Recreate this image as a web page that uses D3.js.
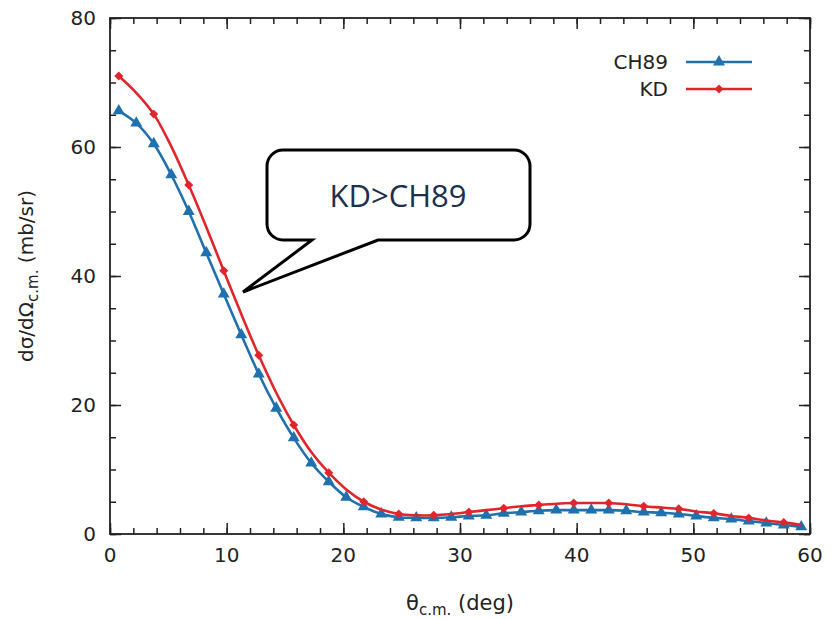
<!DOCTYPE html>
<html>
<head>
<meta charset="utf-8">
<script src="https://cdn.jsdelivr.net/npm/d3@7"></script>
<style>
  html, body { margin: 0; padding: 0; background: #fff; }
  svg { display: block; }
</style>
</head>
<body>
<svg id="chart" width="831" height="619"></svg>
<script>
// Scattering angle grid (deg) shared by both optical-model calculations
const theta = [0.75, 2.25, 3.75, 5.25, 6.75, 8.25, 9.75, 11.25, 12.75, 14.25,
  15.75, 17.25, 18.75, 20.25, 21.75, 23.25, 24.75, 26.25, 27.75, 29.25,
  30.75, 32.25, 33.75, 35.25, 36.75, 38.25, 39.75, 41.25, 42.75, 44.25,
  45.75, 47.25, 48.75, 50.25, 51.75, 53.25, 54.75, 56.25, 57.75, 59.25];

// Differential cross sections (mb/sr)
const ch89 = [65.6, 63.7, 60.5, 55.7, 50.0, 43.6, 37.2, 30.9, 24.8, 19.5,
  14.9, 11.0, 8.1, 5.7, 4.2, 3.1, 2.6, 2.5, 2.5, 2.6,
  2.8, 2.9, 3.2, 3.4, 3.6, 3.7, 3.7, 3.7, 3.7, 3.6,
  3.4, 3.3, 3.1, 2.8, 2.5, 2.3, 2.0, 1.7, 1.4, 1.1];
const kd = [71.0, 68.4, 65.1, 60.1, 54.1, 47.6, 40.8, 34.1, 27.7, 21.9,
  16.9, 12.7, 9.5, 6.9, 5.0, 3.8, 3.1, 2.9, 2.9, 3.1,
  3.4, 3.7, 4.0, 4.3, 4.5, 4.7, 4.8, 4.8, 4.8, 4.6,
  4.3, 4.1, 3.9, 3.5, 3.2, 2.8, 2.5, 2.1, 1.8, 1.4];

const xTicks = [0, 10, 20, 30, 40, 50, 60];
const yTicks = [0, 20, 40, 60, 80];
const calloutText = "KD>CH89";

// Markers: triangles for CH89; squares turned 45° (diamonds) for KD, on every other point
const series = [
  { name: "CH89", values: ch89, color: "#1f70ad", symbol: d3.symbolTriangle, size: 62, rot: 0,  every: 1 },
  { name: "KD",   values: kd,   color: "#e0262c", symbol: d3.symbolSquare,   size: 40, rot: 45, every: 2 }
];

const svg = d3.select("#chart");
const m = { left: 110, right: 21, top: 18, bottom: 85 };
const W = 831, H = 619;

const x = d3.scaleLinear().domain([0, 60]).range([m.left, W - m.right]);
const y = d3.scaleLinear().domain([0, 80]).range([H - m.bottom, m.top]);

const tickFont = "DejaVu Sans, Verdana, sans-serif";
const fs = 20;

// Inward ticks on all four sides, major and minor
const xMinor = d3.range(0, 61, 2);
const yMinor = d3.range(0, 81, 5);

svg.append("g").attr("transform", `translate(0,${y(0)})`)
  .call(d3.axisTop(x).tickValues(xMinor).tickSize(6).tickFormat(""));
svg.append("g").attr("transform", `translate(0,${y(0)})`)
  .call(d3.axisTop(x).tickValues(xTicks).tickSize(11).tickFormat(""));
svg.append("g").attr("transform", `translate(0,${y(80)})`)
  .call(d3.axisBottom(x).tickValues(xMinor).tickSize(6).tickFormat(""));
svg.append("g").attr("transform", `translate(0,${y(80)})`)
  .call(d3.axisBottom(x).tickValues(xTicks).tickSize(11).tickFormat(""));
svg.append("g").attr("transform", `translate(${x(0)},0)`)
  .call(d3.axisRight(y).tickValues(yMinor).tickSize(6).tickFormat(""));
svg.append("g").attr("transform", `translate(${x(0)},0)`)
  .call(d3.axisRight(y).tickValues(yTicks).tickSize(11).tickFormat(""));
svg.append("g").attr("transform", `translate(${x(60)},0)`)
  .call(d3.axisLeft(y).tickValues(yMinor).tickSize(6).tickFormat(""));
svg.append("g").attr("transform", `translate(${x(60)},0)`)
  .call(d3.axisLeft(y).tickValues(yTicks).tickSize(11).tickFormat(""));

svg.selectAll(".domain").remove();
svg.selectAll(".tick line").attr("stroke", "#222").attr("stroke-width", 1.5);

// Tick labels
svg.append("g").selectAll("text").data(xTicks).join("text")
  .attr("x", d => x(d)).attr("y", y(0) + 28)
  .attr("text-anchor", "middle")
  .attr("font-family", tickFont).attr("font-size", fs).attr("fill", "#222")
  .text(d => d);
svg.append("g").selectAll("text").data(yTicks).join("text")
  .attr("x", x(0) - 14).attr("y", d => y(d) + 7)
  .attr("text-anchor", "end")
  .attr("font-family", tickFont).attr("font-size", fs).attr("fill", "#222")
  .text(d => d);

// Plot frame
svg.append("rect")
  .attr("x", x(0)).attr("y", y(80))
  .attr("width", x(60) - x(0)).attr("height", y(0) - y(80))
  .attr("fill", "none").attr("stroke", "#222").attr("stroke-width", 1.8);

// Curves with markers
const line = d3.line()
  .x((d, i) => x(theta[i]))
  .y(d => y(d))
  .curve(d3.curveCatmullRom.alpha(0.5));

series.forEach(s => {
  svg.append("path").datum(s.values)
    .attr("d", line)
    .attr("fill", "none").attr("stroke", s.color).attr("stroke-width", 2.6);
  const pts = s.values.map((v, i) => [theta[i], v]).filter((d, i) => i % s.every === 0);
  svg.append("g").selectAll("path").data(pts).join("path")
    .attr("d", d3.symbol().type(s.symbol).size(s.size))
    .attr("transform", d => `translate(${x(d[0])},${y(d[1])}) rotate(${s.rot})`)
    .attr("fill", s.color);
});

// Legend
series.forEach((s, i) => {
  const ly = 62 + i * 27;
  svg.append("text")
    .attr("x", 668).attr("y", ly + 7)
    .attr("text-anchor", "end")
    .attr("font-family", tickFont).attr("font-size", fs).attr("fill", "#222")
    .text(s.name);
  svg.append("line")
    .attr("x1", 686).attr("x2", 752).attr("y1", ly).attr("y2", ly)
    .attr("stroke", s.color).attr("stroke-width", 2.6);
  svg.append("path")
    .attr("d", d3.symbol().type(s.symbol).size(s.size)())
    .attr("transform", `translate(719,${ly}) rotate(${s.rot})`)
    .attr("fill", s.color);
});

// Axis titles
const xl = svg.append("text")
  .attr("x", 460).attr("y", 610)
  .attr("text-anchor", "middle")
  .attr("font-family", tickFont).attr("font-size", 21).attr("fill", "#222");
xl.append("tspan").text("θ");
xl.append("tspan").attr("font-size", 15).attr("dy", 5).text("c.m.");
xl.append("tspan").attr("dy", -5).text(" (deg)");

const yl = svg.append("text")
  .attr("transform", `translate(33,${(y(0) + y(80)) / 2}) rotate(-90)`)
  .attr("text-anchor", "middle")
  .attr("font-family", tickFont).attr("font-size", 20).attr("fill", "#222");
yl.append("tspan").text("dσ/dΩ");
yl.append("tspan").attr("font-size", 15).attr("dy", 5).text("c.m.");
yl.append("tspan").attr("dy", -5).text(" (mb/sr)");

// Speech-bubble callout
const bx0 = 267, by0 = 150, bx1 = 530, by1 = 240, r = 16;
const tail = { a: 312, b: 378, tipX: 243, tipY: 292 };
const p = d3.path();
p.moveTo(bx0 + r, by0);
p.lineTo(bx1 - r, by0);
p.arcTo(bx1, by0, bx1, by0 + r, r);
p.lineTo(bx1, by1 - r);
p.arcTo(bx1, by1, bx1 - r, by1, r);
p.lineTo(tail.b, by1);
p.lineTo(tail.tipX, tail.tipY);
p.lineTo(tail.a, by1);
p.lineTo(bx0 + r, by1);
p.arcTo(bx0, by1, bx0, by1 - r, r);
p.lineTo(bx0, by0 + r);
p.arcTo(bx0, by0, bx0 + r, by0, r);
p.closePath();
svg.append("path").attr("d", p.toString())
  .attr("fill", "#fff").attr("stroke", "#000").attr("stroke-width", 3)
  .attr("stroke-linejoin", "miter");
svg.append("text")
  .attr("x", 398).attr("y", 207)
  .attr("text-anchor", "middle")
  .attr("font-family", "Open Sans, Carlito, sans-serif").attr("font-size", 31)
  .attr("fill", "#1d3050")
  .text(calloutText);
</script>
</body>
</html>
